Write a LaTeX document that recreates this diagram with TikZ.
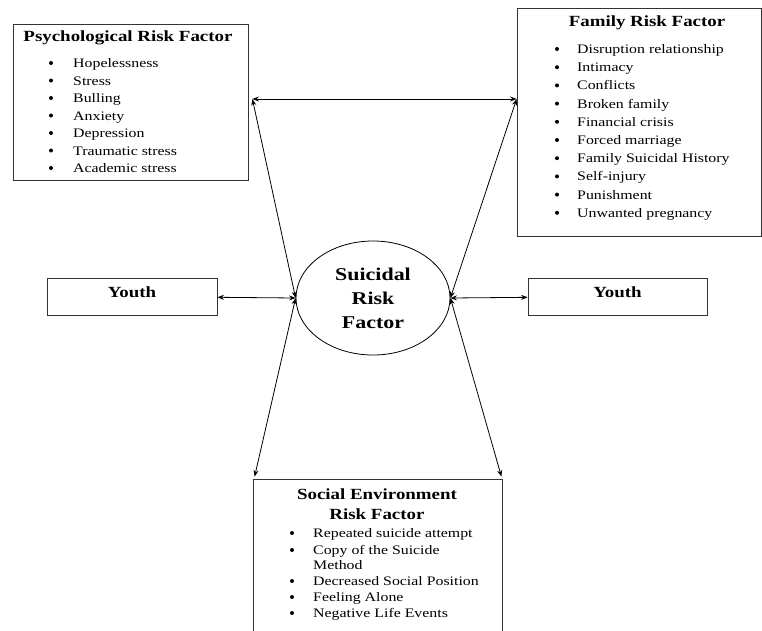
\documentclass[tikz,border=0pt]{standalone}
\usepackage{fontspec}
\setmainfont{Liberation Serif}[FakeStretch=1.22]
\usetikzlibrary{arrows.meta,shapes.geometric}

\tikzset{
    >={Stealth[length=6.5pt,width=5pt]},
    box/.style={draw=black!80,line width=0.8pt,inner sep=0pt},
    head/.style={font=\fontsize{15.5}{20}\selectfont\bfseries,inner sep=0pt},
    item/.style={font=\fontsize{13}{16}\selectfont,inner sep=0pt,anchor=base west,yshift=-4.5pt},
    dot/.style={circle,fill,inner sep=0pt,minimum size=4pt},
    youthbox/.style={box,font=\fontsize{15.5}{18}\selectfont\bfseries,minimum height=37pt,text depth=8pt},
    link/.style={line width=0.8pt,<->}
}

\begin{document}
\begin{tikzpicture}[x=1pt,y=-1pt]
    \useasboundingbox (0,0) rectangle (762,630);
    % boxes
    \node[box,minimum width=235pt,minimum height=156pt] (psych) at (130.5,102) {};
    \node[box,minimum width=244pt,minimum height=228pt] (fam) at (639,122) {};
    \node[box,minimum width=249pt,minimum height=161pt] (soc) at (377.5,559.5) {};
    \node[youthbox,minimum width=170pt] (youthL) at (132,296.5) {Youth};
    \node[youthbox,minimum width=179pt] (youthR) at (617.5,296.5) {Youth};
    \node[draw,ellipse,line width=0.8pt,minimum width=154pt,minimum height=114pt,align=center,
          font=\fontsize{18}{24}\selectfont\bfseries] (srf) at (373,298) {Suicidal\\Risk\\Factor};
    % titles
    \node[head] (psychT) at (128,38) {Psychological Risk Factor};
    \node[head] (famT) at (647,23) {Family Risk Factor};
    \node[head,align=center] (socT) at (377,504) {Social Environment\\Risk Factor};
    % lists
    \foreach \t [count=\i] in {Hopelessness,Stress,Bulling,Anxiety,Depression,Traumatic stress,Academic stress}{
        \node[dot] (pd\i) at (51,{45.5+17.5*\i}) {};
        \node[item] (pi\i) at (73,{45.5+17.5*\i}) {\t};
    }
    \foreach \t [count=\i] in {Disruption relationship,Intimacy,Conflicts,Broken family,Financial crisis,Forced marriage,Family Suicidal History,Self-injury,Punishment,Unwanted pregnancy}{
        \node[dot] (fd\i) at (557,{30.8+18.2*\i}) {};
        \node[item] (fi\i) at (577,{30.8+18.2*\i}) {\t};
    }
    \foreach \y/\t [count=\i] in {533/Repeated suicide attempt,550/Copy of the Suicide,581/Decreased Social Position,597/Feeling Alone,613/Negative Life Events}{
        \node[dot] (sd\i) at (292,\y) {};
        \node[item] (si\i) at (313,\y) {\t};
    }
    \node[item] (si2b) at (313,565) {Method};
    % arrows
    \coordinate (pR) at ([xshift=4pt,yshift=3pt]psych.east);
    \coordinate (fL) at (fam.west |- pR);
    \coordinate (sL) at ([xshift=2pt,yshift=2pt]soc.north west);
    \coordinate (sR) at ([xshift=-1pt,yshift=2pt]soc.north east);
    \draw[link] (pR) -- (fL);
    \draw[link] (pR) -- (srf.west);
    \draw[link] (fL) -- (srf.east);
    \draw[link] (youthL) -- (srf.west);
    \draw[link] (youthR) -- (srf.east);
    \draw[link] (srf.west) -- (sL);
    \draw[link] (srf.east) -- (sR);
\end{tikzpicture}
\end{document}
